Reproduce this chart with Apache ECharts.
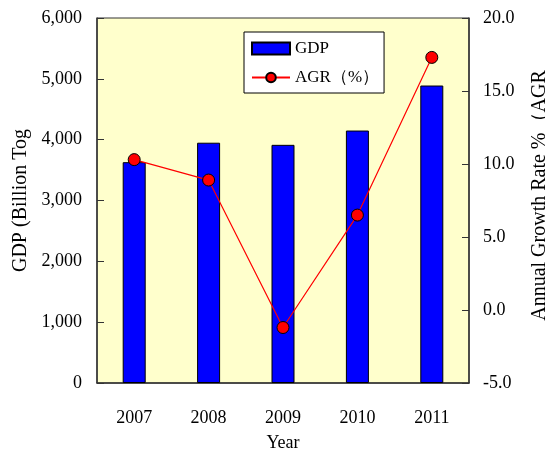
<!DOCTYPE html>
<html>
<head>
<meta charset="utf-8">
<script src="https://cdn.jsdelivr.net/npm/echarts@6/dist/echarts.min.js"></script>
<style>
  html, body { margin: 0; padding: 0; background: #fff; }
  #chart { width: 545px; height: 462px; }
</style>
</head>
<body>
<div id="chart"></div>
<script>
// 数据
var years = ['2007', '2008', '2009', '2010', '2011']
var gdp = [3630, 3950, 3915, 4150, 4890]
var agr = [10.3, 8.9, -1.2, 6.5, 17.3]

var font = "'Liberation Serif', 'Times New Roman', serif"
var axisColor = '#333'

var chart = echarts.init(document.getElementById('chart'))
var option = {
  animation: false,
  textStyle: { fontFamily: font },
  grid: {
    left: 97, right: 76, top: 18, bottom: 79,
    outerBoundsMode: 'none',
    containLabel: false,
    show: true,
    backgroundColor: '#FFFFCC',
    borderColor: axisColor,
    borderWidth: 1
  },
  legend: {
    left: 244, top: 32,
    orient: 'vertical',
    backgroundColor: '#FFFFFF',
    borderColor: '#000',
    borderWidth: 1,
    padding: [8, 5, 7, 7],
    itemGap: 12,
    itemWidth: 38,
    itemHeight: 12,
    textStyle: { fontFamily: font, fontSize: 17, color: '#000' },
    data: [
      { name: 'GDP', icon: 'rect' },
      { name: 'AGR（%）' }
    ]
  },
  xAxis: {
    type: 'category',
    data: years,
    name: 'Year',
    nameLocation: 'middle',
    nameGap: 51,
    nameTextStyle: { fontFamily: font, fontSize: 18, color: '#000' },
    axisLine: { lineStyle: { color: axisColor, width: 1.5 } },
    axisTick: { inside: true, length: 6, lineStyle: { color: axisColor } },
    axisLabel: { margin: 26, fontFamily: font, fontSize: 18, color: '#000' }
  },
  yAxis: [{
    type: 'value',
    min: 0, max: 6000, interval: 1000,
    name: 'GDP (Billion Tog',
    nameLocation: 'middle',
    nameGap: 62,
    nameTextStyle: { fontFamily: font, fontSize: 20, color: '#000' },
    axisLine: { show: true, lineStyle: { color: axisColor, width: 1.5 } },
    axisTick: { show: true, inside: true, length: 7, lineStyle: { color: axisColor } },
    splitLine: { show: false },
    axisLabel: {
      margin: 15, fontFamily: font, fontSize: 18, color: '#000',
      formatter: function (v) { return v.toLocaleString('en-US') }
    }
  }, {
    type: 'value',
    position: 'right',
    min: -5, max: 20, interval: 5,
    name: 'Annual Growth Rate %（AGR',
    nameLocation: 'middle',
    nameGap: 61,
    nameTextStyle: { fontFamily: font, fontSize: 20, color: '#000', padding: [0, 0, 0, 10] },
    axisLine: { show: true, lineStyle: { color: axisColor, width: 1.5 } },
    axisTick: { show: true, inside: true, length: 7, lineStyle: { color: axisColor } },
    splitLine: { show: false },
    axisLabel: {
      margin: 14, fontFamily: font, fontSize: 18, color: '#000',
      formatter: function (v) { return v.toFixed(1) }
    }
  }],
  series: [{
    name: 'GDP',
    type: 'bar',
    data: gdp,
    barWidth: 23,
    itemStyle: { color: '#0000FF', borderColor: '#000', borderWidth: 1 }
  }, {
    name: 'AGR（%）',
    type: 'line',
    yAxisIndex: 1,
    data: agr,
    symbol: 'circle',
    symbolSize: 12,
    lineStyle: { color: '#FF0000', width: 1.2 },
    itemStyle: { color: '#FF0000', borderColor: '#000', borderWidth: 1 }
  }]
}
chart.setOption(option)
</script>
</body>
</html>
